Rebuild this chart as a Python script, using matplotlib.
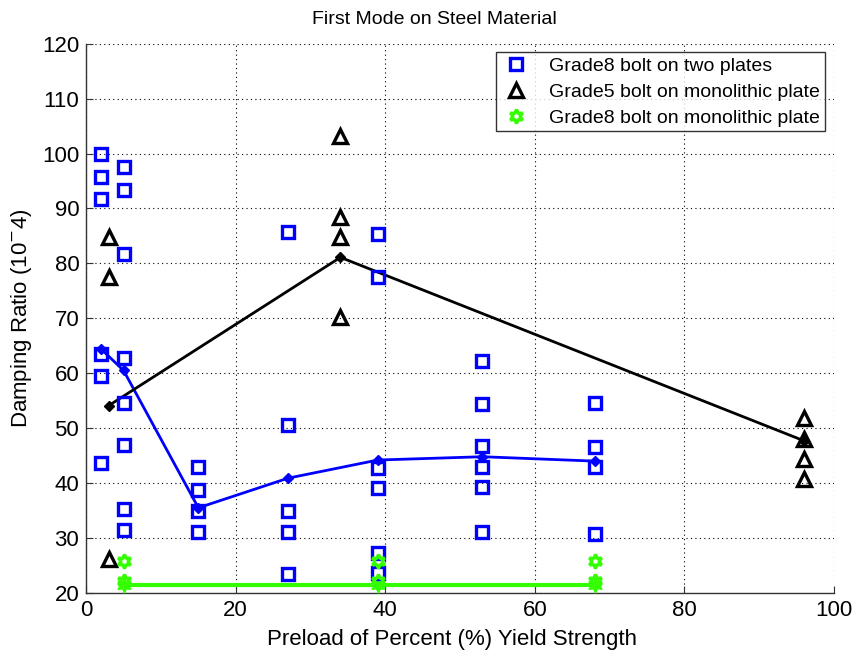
import matplotlib
matplotlib.use("Agg")
import matplotlib.pyplot as plt

plt.rcParams['font.family'] = ['Liberation Sans', 'DejaVu Sans']

# Grade8 bolt on two plates: individual measurements
g8_two_x = [2, 2, 2, 2, 2, 2,
            5, 5, 5, 5, 5, 5, 5, 5,
            15, 15, 15, 15,
            27, 27, 27, 27, 27,
            39, 39, 39, 39, 39, 39,
            53, 53, 53, 53, 53, 53,
            68, 68, 68, 68]
g8_two_y = [99.9, 95.7, 91.7, 63.5, 59.5, 43.7,
            97.6, 93.4, 81.8, 62.8, 54.6, 47.0, 35.2, 31.4,
            42.9, 38.8, 34.9, 31.1,
            50.5, 34.9, 31.1, 23.4, 85.8,
            85.4, 77.5, 42.7, 39.1, 27.3, 23.6,
            62.2, 54.4, 46.8, 42.9, 39.2, 31.1,
            54.5, 46.6, 42.9, 30.8]

# Grade8 bolt on two plates: mean curve
g8_two_mean_x = [2, 5, 15, 27, 39, 53, 68]
g8_two_mean_y = [64.4, 60.5, 35.5, 40.9, 44.2, 44.8, 44.0]

# Grade5 bolt on monolithic plate: individual measurements
g5_mono_x = [3, 3, 3, 34, 34, 34, 34, 96, 96, 96, 96]
g5_mono_y = [84.8, 77.6, 26.1, 103.2, 88.5, 84.8, 70.3, 51.9, 48.0, 44.3, 40.7]

# Grade5 bolt on monolithic plate: mean curve
g5_mono_mean_x = [3, 34, 96]
g5_mono_mean_y = [54.1, 81.1, 47.7]

# Grade8 bolt on monolithic plate: individual measurements
g8_mono_x = [5, 5, 39, 39, 68, 68]
g8_mono_y = [25.8, 22.1, 25.8, 22.1, 25.8, 22.1]

# Grade8 bolt on monolithic plate: mean curve
g8_mono_mean_x = [5, 39, 68]
g8_mono_mean_y = [21.5, 21.5, 21.5]

legend_labels = ['Grade8 bolt on two plates',
                 'Grade5 bolt on monolithic plate',
                 'Grade8 bolt on monolithic plate']

fig = plt.figure(figsize=(8.56, 6.57), dpi=100)
ax = fig.add_axes([0.1007, 0.0975, 0.8735, 0.8360])

blue = '#0000ff'
green = '#33ff00'
star = (6, 1, 0)

# mean curves
ax.plot(g8_two_mean_x, g8_two_mean_y, color=blue, lw=2.0, marker='D',
        ms=5, mfc=blue, mec=blue, zorder=3)
ax.plot(g5_mono_mean_x, g5_mono_mean_y, color='black', lw=2.0, marker='D',
        ms=5, mfc='black', mec='black', zorder=3)
ax.plot(g8_mono_mean_x, g8_mono_mean_y, color=green, lw=3.0, marker=star,
        ms=11, mfc=green, mec=green, zorder=3)

# individual measurements
ax.plot(g8_two_x, g8_two_y, ls='none', marker='s', ms=9, mfc='none',
        mec=blue, mew=2.4, label=legend_labels[0], zorder=4)
ax.plot(g5_mono_x, g5_mono_y, ls='none', marker='^', ms=10, mfc='none',
        mec='black', mew=2.4, label=legend_labels[1], zorder=4)
ax.plot(g8_mono_x, g8_mono_y, ls='none', marker=star, ms=10, mfc='none',
        mec=green, mew=2.4, label=legend_labels[2], zorder=4)

ax.set_xlim(0, 100)
ax.set_ylim(20, 120)
ax.set_xticks(range(0, 101, 20))
ax.set_yticks(range(20, 121, 10))
ax.grid(True, color='black', ls=(0, (1, 3)), lw=0.8)
ax.tick_params(direction='in', length=5, labelsize=16, top=False, right=False,
               color='#333333', pad=5)
for s in ax.spines.values():
    s.set_color('#333333')
    s.set_linewidth(1.0)
ax.spines['top'].set_visible(False)
ax.spines['right'].set_visible(False)

ax.set_title('First Mode on Steel Material', fontsize=14, pad=14, x=0.465)
ax.set_xlabel('Preload of Percent (%) Yield Strength', fontsize=16, labelpad=6,
              x=0.489)
ax.set_ylabel(r'Damping Ratio (10$^{-}$4)', fontsize=16, labelpad=6)

leg = ax.legend(loc='upper right', bbox_to_anchor=(0.988, 0.984),
                fontsize=14, frameon=True, fancybox=False, borderpad=0.25,
                handletextpad=0.9, labelspacing=0.42, handlelength=1.6,
                borderaxespad=0.0)
leg.get_frame().set_edgecolor('black')
leg.get_frame().set_linewidth(1.0)

fig.savefig('out.png', dpi=100)
